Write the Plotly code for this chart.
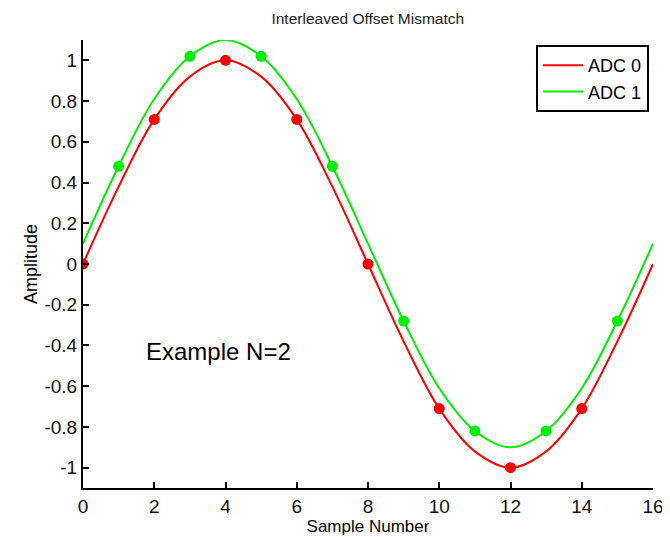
import plotly.graph_objects as go

# Continuous curves (read at integer sample positions)
curve_x = list(range(0, 17))
adc0_curve = [0, 0.38, 0.71, 0.92, 1.0, 0.92, 0.71, 0.38, 0, -0.38, -0.71, -0.92, -1.0, -0.92, -0.71, -0.38, 0]
adc1_curve = [0.1, 0.48, 0.81, 1.02, 1.1, 1.02, 0.81, 0.48, 0.1, -0.28, -0.61, -0.82, -0.9, -0.82, -0.61, -0.28, 0.1]

# Sampled points
adc0_x = [0, 2, 4, 6, 8, 10, 12, 14]
adc0_y = [0, 0.71, 1.0, 0.71, 0, -0.71, -1.0, -0.71]
adc1_x = [1, 3, 5, 7, 9, 11, 13, 15]
adc1_y = [0.48, 1.02, 1.02, 0.48, -0.28, -0.82, -0.82, -0.28]

x_ticks = [0, 2, 4, 6, 8, 10, 12, 14, 16]
y_ticks = [-1, -0.8, -0.6, -0.4, -0.2, 0, 0.2, 0.4, 0.6, 0.8, 1]
y_tick_text = ["-1", "-0.8", "-0.6", "-0.4", "-0.2", "0", "0.2", "0.4", "0.6", "0.8", "1"]

RED = "#ff0000"
GREEN = "#00ee00"
FONT = "Liberation Sans, Arial, sans-serif"

fig = go.Figure()
fig.add_trace(go.Scatter(x=curve_x, y=adc0_curve, mode="lines", name="ADC 0",
                         line=dict(color=RED, width=2, shape="spline", smoothing=1.0)))
fig.add_trace(go.Scatter(x=curve_x, y=adc1_curve, mode="lines", name="ADC 1",
                         line=dict(color=GREEN, width=2, shape="spline", smoothing=1.0)))
fig.add_trace(go.Scatter(x=adc0_x, y=adc0_y, mode="markers", showlegend=False,
                         marker=dict(color=RED, size=11)))
fig.add_trace(go.Scatter(x=adc1_x, y=adc1_y, mode="markers", showlegend=False,
                         marker=dict(color=GREEN, size=11)))

fig.add_annotation(x=1.7, y=-0.43, text="Example N=2", showarrow=False,
                   xanchor="left", yanchor="middle",
                   font=dict(size=24, color="black", family=FONT))

fig.update_layout(
    width=670, height=537,
    paper_bgcolor="white", plot_bgcolor="white",
    margin=dict(l=75, r=25, t=32, b=57),
    font=dict(family=FONT, color="black"),
    title=dict(text="Interleaved Offset Mismatch", x=0.537, xanchor="center",
               y=0.981, yanchor="middle", font=dict(size=15.5, color="#222222")),
    showlegend=True,
    legend=dict(x=0.993, y=0.989, xanchor="right", yanchor="top",
                bgcolor="white", bordercolor="black", borderwidth=2,
                font=dict(size=18, color="black"), tracegroupgap=0,
                itemwidth=40),
    xaxis=dict(range=[0, 16], tickvals=x_ticks, showgrid=False, zeroline=False,
               showline=True, linecolor="black", linewidth=2,
               ticks="inside", ticklen=6, tickwidth=2, tickcolor="black",
               tickfont=dict(size=19, color="#111111"),
               title=dict(text="Sample Number", font=dict(size=17), standoff=0)),
    yaxis=dict(range=[-1.1, 1.1], tickvals=y_ticks, ticktext=y_tick_text,
               showgrid=False, zeroline=False,
               showline=True, linecolor="black", linewidth=2,
               ticks="inside", ticklen=6, tickwidth=2, tickcolor="black",
               tickfont=dict(size=19, color="#111111"),
               title=dict(text="Amplitude", font=dict(size=18), standoff=2)),
)

fig.write_html("out.html")
